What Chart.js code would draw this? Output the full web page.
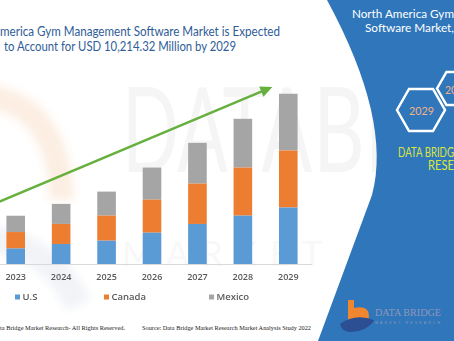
<!DOCTYPE html>
<html>
<head>
<meta charset="utf-8">
<script src="https://cdn.jsdelivr.net/npm/chart.js@4/dist/chart.umd.min.js"></script>
<style>
  html, body { margin: 0; padding: 0; background: #fff; }
  #wrap { position: relative; width: 454px; height: 341px; overflow: hidden; }
  #bg { position: absolute; left: 0; top: 0; }
  #chart { position: absolute; left: -7px; top: 0; }
</style>
</head>
<body>
<div id="wrap">
  <svg id="bg" width="454" height="341" viewBox="0 0 454 341" xmlns="http://www.w3.org/2000/svg">
    <defs>
      <filter id="soft" x="-50%" y="-50%" width="200%" height="200%"><feGaussianBlur stdDeviation="5"/></filter>
    </defs>
    <!-- faded logo and watermark -->
    <path d="M-20 96 Q58 100 62 200" fill="none" stroke="#fceee2" stroke-width="24" filter="url(#soft)"/>
    <path d="M-10 238 Q55 250 78 305" fill="none" stroke="#f1f3f7" stroke-width="26" filter="url(#soft)"/>
    <text x="122" y="172" font-family="Lato" font-size="118" fill="#f5f5f5" textLength="190" lengthAdjust="spacingAndGlyphs">DATA</text>
    <text x="313" y="172" font-family="Lato" font-size="118" fill="#f5f5f5" textLength="290" lengthAdjust="spacingAndGlyphs">BRIDGE</text>
    <text x="122" y="266" font-family="Lato" font-size="34" fill="#f8f8f8" textLength="200" lengthAdjust="spacing">MARKET</text>

    <!-- title -->
    <text x="0" y="36" font-family="Lato" font-size="12.5" fill="#2f5d98" textLength="280" lengthAdjust="spacingAndGlyphs">merica Gym Management Software Market is Expected</text>
    <text x="4" y="50.5" font-family="Lato" font-size="12.5" fill="#2f5d98" textLength="232" lengthAdjust="spacingAndGlyphs">to Account for USD 10,214.32 Million by 2029</text>

    <!-- right panel -->
    <path d="M327 0 Q392 120 372 195 L318 341 L454 341 L454 0 Z" fill="#2f76bb"/>
    <text x="352" y="17.5" font-family="Lato" font-size="12" fill="#fff" textLength="102" lengthAdjust="spacingAndGlyphs">North America Gym</text>
    <text x="365" y="32" font-family="Lato" font-size="12" fill="#fff" textLength="89" lengthAdjust="spacingAndGlyphs">Software Market,</text>
    <polygon points="397,110 409,89 433,89 445,110 433,131 409,131" fill="none" stroke="#fff" stroke-width="2.5"/>
    <text x="409" y="115" font-family="Lato" font-size="11" fill="#f4b183" textLength="25" lengthAdjust="spacingAndGlyphs">2029</text>
    <polygon points="437,88.5 446.5,72 465.5,72 475,88.5 465.5,105 446.5,105" fill="none" stroke="#fff" stroke-width="2.5"/>
    <text x="445" y="93.5" font-family="Lato" font-size="10.5" fill="#f4b183">20</text>
    <text x="398" y="157" font-family="Lato" font-size="12.5" fill="#dbe83b" textLength="56" lengthAdjust="spacingAndGlyphs">DATA BRIDG</text>
    <text x="428" y="169.5" font-family="Lato" font-size="12.5" fill="#dbe83b" textLength="26" lengthAdjust="spacingAndGlyphs">RESE</text>

    <!-- logo bottom right -->
    <path d="M348 300 h6 v8 q15 -3 15 8 q0 7 -9 7 h-12 z" fill="#f0862e"/>
    <path d="M340 324 q15 -11 34 -4 q-6 11 -23 12 q-9 0 -11 -8 z" fill="#2b4f92"/>
    <text x="375" y="316" font-family="Liberation Serif" font-size="10.5" fill="#8f97b8" textLength="66" lengthAdjust="spacingAndGlyphs">DATA BRIDGE</text>
    <text x="375" y="324" font-family="Liberation Sans" font-size="3.5" fill="#8f97b8" textLength="65" lengthAdjust="spacing">MARKET RESEARCH</text>

    <!-- footer -->
    <text x="0" y="330" font-family="Liberation Serif" font-size="6.5" fill="#222" textLength="125" lengthAdjust="spacingAndGlyphs">ta Bridge Market Research- All Rights Reserved.</text>
    <text x="142" y="330" font-family="Liberation Serif" font-size="6.5" fill="#222" textLength="169" lengthAdjust="spacingAndGlyphs">Source: Data Bridge Market Research Market Analysis Study 2022</text>
  </svg>
  <canvas id="chart" width="461" height="341"></canvas>
</div>
<script>
const years = ['2023', '2024', '2025', '2026', '2027', '2028', '2029'];
const usValues = [931, 1202, 1400, 1880, 2403, 2902, 3395];
const canadaValues = [985, 1202, 1502, 1983, 2421, 2884, 3410];
const mexicoValues = [980, 1202, 1442, 1923, 2445, 2926, 3409.32];

// trend arrow ends, in (category index, value)
const trendStart = [-0.5, 3575];
const trendEnd = [5.65, 10620];

Chart.defaults.font.family = '"Open Sans", sans-serif';

const trendArrow = {
  id: 'trendArrow',
  afterDatasetsDraw(chart) {
    const { ctx, scales: { x, y } } = chart;
    const x0 = x.getPixelForValue(trendStart[0]);
    const y0 = y.getPixelForValue(trendStart[1]);
    const x1 = x.getPixelForValue(trendEnd[0]);
    const y1 = y.getPixelForValue(trendEnd[1]);
    const ang = Math.atan2(y1 - y0, x1 - x0);
    const head = 12, half = 5.5;
    const c = Math.cos(ang), s = Math.sin(ang);
    ctx.save();
    ctx.strokeStyle = '#66b03e';
    ctx.fillStyle = '#66b03e';
    ctx.lineWidth = 2.5;
    ctx.beginPath();
    ctx.moveTo(x0, y0);
    ctx.lineTo(x1 - head * 0.8 * c, y1 - head * 0.8 * s);
    ctx.stroke();
    ctx.beginPath();
    ctx.moveTo(x1, y1);
    ctx.lineTo(x1 - head * c + half * s, y1 - head * s - half * c);
    ctx.lineTo(x1 - head * c - half * s, y1 - head * s + half * c);
    ctx.closePath();
    ctx.fill();
    ctx.restore();
  }
};

// legend row drawn from the datasets
const legendRow = {
  id: 'legendRow',
  afterDraw(chart) {
    const { ctx } = chart;
    const xs = [22, 111, 216];
    ctx.save();
    ctx.font = '600 9.5px "Open Sans"';
    ctx.textBaseline = 'middle';
    chart.data.datasets.forEach((ds, i) => {
      ctx.fillStyle = ds.backgroundColor;
      ctx.fillRect(xs[i], 294.5, 5, 5);
      ctx.fillStyle = '#595959';
      ctx.fillText(ds.label, xs[i] + 7.5, 297);
    });
    ctx.restore();
  }
};

new Chart(document.getElementById('chart'), {
  type: 'bar',
  data: {
    labels: years,
    datasets: [
      { label: 'U.S', data: usValues, backgroundColor: '#5b9bd5' },
      { label: 'Canada', data: canadaValues, backgroundColor: '#ed7d31' },
      { label: 'Mexico', data: mexicoValues, backgroundColor: '#a5a5a5' }
    ]
  },
  options: {
    responsive: false,
    animation: false,
    layout: { padding: { top: 64, right: 143, bottom: 57, left: 0 } },
    datasets: { bar: { barPercentage: 0.41, categoryPercentage: 1 } },
    plugins: {
      legend: { display: false },
      tooltip: { enabled: false }
    },
    scales: {
      x: {
        stacked: true,
        grid: { display: false, drawTicks: false },
        border: { display: true, color: '#d9d9d9' },
        ticks: { color: '#595959', font: { size: 9, weight: '600' }, padding: 8.5 },
        afterFit(scale) { scale.height = 20; }
      },
      y: { stacked: true, display: false, min: 0, max: 12000 }
    }
  },
  plugins: [trendArrow, legendRow]
});
</script>
</body>
</html>
